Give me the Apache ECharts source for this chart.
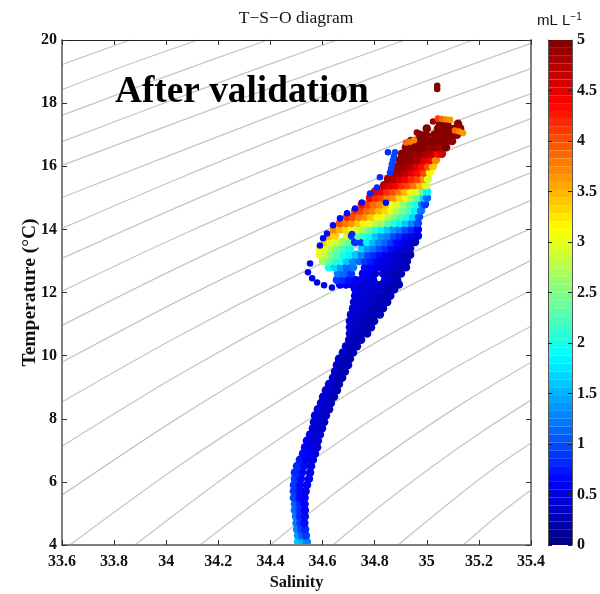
<!DOCTYPE html>
<html><head><meta charset="utf-8"><style>html,body{margin:0;background:#fff}#c{width:600px;height:594px}</style>
<script src="https://cdn.jsdelivr.net/npm/echarts@6/dist/echarts.min.js"></script></head>
<body><div id="c"></div><script>
const salinityTicks=[33.6,35.4,0.2];
const temperatureTicks=[4,20,2];
const oxygenTicks=[0,5,0.5];

// isopycnal contours: [salinity, temperature]
const contours=[
[[33.6,19.22],[33.861,20]],
[[33.6,18.43],[33.86,19.24],[34.122,20]],
[[33.6,17.61],[34.0,18.85],[34.39,20]],
[[33.6,16.78],[34.13,18.43],[34.655,20]],
[[33.6,16.03],[34.26,18.06],[34.916,20]],
[[33.6,15.01],[34.39,17.55],[35.177,20]],
[[33.6,14.03],[34.05,15.62],[34.5,17.12],[34.95,18.55],[35.4,19.89]],
[[33.6,13.08],[34.05,14.73],[34.5,16.29],[34.95,17.74],[35.4,19.09]],
[[33.6,12.04],[34.05,13.79],[34.5,15.41],[34.95,16.92],[35.4,18.30]],
[[33.6,10.96],[34.05,12.81],[34.5,14.52],[34.95,16.08],[35.4,17.51]],
[[33.6,9.79],[34.05,11.75],[34.5,13.55],[34.95,15.18],[35.4,16.66]],
[[33.6,8.53],[34.05,10.63],[34.5,12.54],[34.95,14.26],[35.4,15.80]],
[[33.6,7.13],[34.05,9.40],[34.5,11.45],[34.95,13.29],[35.4,14.92]],
[[33.6,5.58],[34.05,8.05],[34.5,10.29],[34.95,12.28],[35.4,14.03]],
[[33.63,4],[34.07,6.63],[34.52,9.01],[34.96,11.14],[35.4,13.02]],
[[33.88,4],[34.26,6.36],[34.64,8.49],[35.02,10.39],[35.4,12.07]],
[[34.13,4],[34.45,6.01],[34.765,7.85],[35.08,9.48],[35.4,10.93]],
[[34.40,4],[34.65,5.66],[34.9,7.18],[35.15,8.55],[35.4,9.79]],
[[34.64,4],[34.83,5.29],[35.02,6.48],[35.21,7.58],[35.4,8.59]],
[[34.89,4],[35.02,4.89],[35.145,5.72],[35.27,6.5],[35.4,7.23]],
[[35.14,4],[35.27,4.92],[35.4,5.74]]
];

// T-S-O samples read across the cloud, one row per temperature level
const temperatureLevels=[4.1,4.3,4.5,4.7,4.9,5.1,5.3,5.5,5.7,5.9,6.1,6.3,6.5,6.7,6.9,7.1,7.3,7.5,7.7,7.9,8.1,8.3,8.5,8.7,8.9,9.1,9.3,9.5,9.7,9.9,10.1,10.3,10.5,10.7,10.9,11.1,11.3,11.5,11.7,11.9,12.1,12.25,12.4,12.6,12.8,13,13.2,13.4,13.6,13.8,14,14.2,14.4,14.6,14.8,15,15.2,15.4,15.6,15.8,16,16.2,16.4,16.6,16.8,17,17.2,17.35];
const salinityByLevel=[
[34.506,34.521,34.540],[34.506,34.521,34.536],[34.502,34.517,34.533],[34.50,34.515,34.53],[34.498,34.513,34.532],[34.494,34.513,34.532],[34.494,34.512,34.531],[34.49,34.512,34.531],[34.49,34.512,34.535],[34.49,34.513,34.54],
[34.494,34.517,34.548],[34.494,34.521,34.552],[34.502,34.529,34.556],[34.513,34.536,34.563],[34.525,34.548,34.571],[34.533,34.556,34.579],[34.54,34.56,34.582],[34.552,34.571,34.59],[34.563,34.582,34.598],[34.567,34.586,34.606],
[34.571,34.59,34.613],[34.582,34.602,34.625],[34.594,34.613,34.632],[34.602,34.625,34.644],[34.613,34.632,34.655],[34.625,34.644,34.663],[34.64,34.659,34.675],[34.648,34.667,34.686],[34.655,34.675,34.698],[34.663,34.686,34.705],
[34.678,34.698,34.717],[34.69,34.709,34.732],[34.702,34.725,34.748],[34.705,34.728,34.751,34.771],[34.705,34.728,34.751,34.775,34.786],[34.705,34.728,34.751,34.775,34.798],
[34.709,34.732,34.755,34.778,34.801,34.82],[34.717,34.74,34.763,34.786,34.809,34.832],[34.721,34.744,34.767,34.79,34.813,34.836,34.848],[34.725,34.748,34.771,34.794,34.817,34.84,34.86],
[34.725,34.748,34.771,34.794,34.817,34.84,34.863,34.875],
[34.667,34.69,34.713,34.736,34.759,34.782,34.805,34.828,34.851,34.874,34.893],
[34.655,34.678,34.702,34.725,34.748,34.771,34.794,34.84,34.863,34.886],
[34.659,34.682,34.709,34.755,34.778,34.801,34.832,34.855,34.878,34.901],
[34.625,34.648,34.671,34.694,34.717,34.763,34.786,34.809,34.832,34.855,34.878,34.901,34.92],
[34.602,34.625,34.648,34.671,34.694,34.717,34.74,34.763,34.786,34.809,34.832,34.855,34.878,34.901,34.924],
[34.59,34.613,34.636,34.659,34.682,34.705,34.728,34.751,34.774,34.797,34.82,34.843,34.866,34.889,34.912,34.936],
[34.59,34.613,34.636,34.659,34.682,34.705,34.751,34.774,34.797,34.82,34.843,34.866,34.889,34.912,34.936],
[34.609,34.632,34.655,34.678,34.702,34.725,34.748,34.771,34.794,34.817,34.84,34.863,34.886,34.909,34.932,34.955],
[34.625,34.648,34.694,34.713,34.736,34.759,34.782,34.805,34.828,34.851,34.874,34.897,34.92,34.943,34.966],
[34.644,34.667,34.69,34.713,34.736,34.759,34.782,34.805,34.828,34.851,34.874,34.897,34.92,34.943,34.966],
[34.667,34.69,34.713,34.736,34.759,34.782,34.805,34.828,34.851,34.874,34.897,34.92,34.943,34.966],
[34.694,34.717,34.74,34.763,34.786,34.809,34.832,34.855,34.878,34.901,34.924,34.947,34.97],
[34.725,34.748,34.771,34.794,34.817,34.84,34.863,34.886,34.909,34.932,34.955,34.978],
[34.751,34.774,34.797,34.82,34.843,34.866,34.889,34.912,34.936,34.959,34.982,34.993],
[34.782,34.805,34.828,34.851,34.874,34.897,34.92,34.943,34.966,34.989,35.001],
[34.801,34.824,34.847,34.87,34.893,34.916,34.939,34.962,34.985,35.001],
[34.836,34.859,34.882,34.905,34.928,34.951,34.974,34.997],
[34.851,34.874,34.897,34.92,34.943,34.966,34.989,35.005],
[34.874,34.897,34.92,34.943,34.966,34.989,35.012],
[34.889,34.912,34.936,34.959,34.982,35.005,35.024],
[34.897,34.92,34.943,34.966,34.989,35.012,35.035],
[34.905,34.928,34.951,34.974,34.997,35.02,35.043,35.058],
[34.92,34.943,34.966,34.989,35.012,35.035,35.058,35.074],
[34.939,34.962,34.985,35.008,35.031,35.054,35.077,35.097],
[34.974,34.997,35.028,35.051,35.074,35.097,35.116],
[35.0,35.043,35.066,35.089,35.112,35.128],
[35.051,35.078,35.12]
];
const oxygenByLevel=[
[1.6,1.5,1.3],[1.4,1.1,.9],[1.3,1.0,.8],[1.2,.9,.7],[1.2,.8,.7],[1.1,.8,.6],[1.1,.8,.6],[1.0,.7,.6],[.9,.7,.6],[.9,.7,.55],
[.9,.7,.55],[.85,.65,.5],[.8,.65,.5],[.75,.6,.5],[.7,.55,.45],[.6,.5,.45],[.55,.45,.4],[.5,.45,.4],[.45,.4,.35],[.45,.4,.35],
[.45,.4,.35],[.4,.35,.35],[.4,.35,.3],[.4,.35,.3],[.4,.35,.3],[.4,.35,.3],[.4,.3,.3],[.35,.3,.3],[.35,.3,.3],[.35,.3,.3],
[.35,.3,.25],[.35,.3,.25],[.35,.3,.25],[.35,.3,.3,.25],[.4,.35,.3,.3,.25],[.4,.35,.3,.3,.25],
[.45,.4,.35,.3,.3,.25],[.45,.4,.35,.3,.3,.25],[.45,.4,.4,.35,.3,.3,.25],[.45,.4,.4,.35,.3,.3,.25],
[.55,.45,.4,.35,.35,.3,.3,.25],
[.55,.55,.5,.45,.45,.4,.4,.35,.3,.3,.25],
[.9,.8,.7,.6,.55,.45,.45,.4,.35,.3],
[1.2,1.1,.9,.6,.55,.45,.4,.35,.3,.25],
[1.9,1.7,1.4,1.1,1.2,.7,.55,.5,.45,.4,.35,.3,.25],
[2.6,2.4,2.1,1.9,1.6,1.3,1.1,.9,.75,.6,.5,.45,.4,.35,.3],
[3.0,2.8,2.5,2.3,2.0,1.8,1.6,1.3,1.0,.85,.7,.55,.45,.4,.35,.3],
[3.2,3.0,2.7,2.4,2.2,2.0,1.7,1.4,1.2,1.0,.85,.65,.5,.4,.35],
[3.3,3.0,2.9,2.6,2.4,.8,.9,1.8,1.5,1.3,1.1,.9,.7,.55,.45,.35],
[3.5,3.3,2.9,.9,2.3,2.1,1.9,1.6,1.4,1.2,1.0,.85,.65,.5,.4],
[3.7,3.5,3.3,3.1,2.9,2.6,2.4,2.1,1.8,1.6,1.4,1.2,1.0,.8,.6],
[4.0,3.8,3.6,3.4,3.2,3.0,2.8,2.6,2.3,2.1,1.8,1.6,1.3,1.0],
[4.2,4.0,3.8,3.6,3.4,3.2,3.0,2.7,2.5,2.2,2.0,1.7,1.0],
[4.2,4.1,3.9,3.7,3.5,3.3,3.0,2.7,2.5,2.2,1.8,1.2],
[4.3,4.1,3.9,3.7,3.4,3.1,2.9,2.6,2.3,2.0,1.3,.9],
[4.4,4.2,4.0,3.8,3.6,3.3,3.0,2.7,2.3,1.7,1.1],
[4.5,4.4,4.2,4.0,3.8,3.5,3.2,2.9,2.4,1.8],
[4.7,4.6,4.4,4.2,4.0,3.8,3.5,2.9],
[4.8,4.7,4.6,4.4,4.2,4.0,3.6,2.9],
[4.8,4.8,4.7,4.5,4.3,4.0,3.2],
[4.9,4.9,4.8,4.6,4.3,4.0,3.4],
[5,4.9,4.9,4.8,4.6,4.4,3.7],
[5,5,4.9,4.9,4.8,4.7,4.3,4.6],
[5,5,5,5,4.9,4.9,4.8,5],
[5,5,5,5,5,5,5,4.9],
[5,5,5,5,5,5,5],
[5,5,5,5,5,5],
[5,5,5]
];
// isolated dots and streaks outside the main rows
const extraSalinity=[34.636,34.606,34.579,34.56,34.544,34.552,34.59,34.602,34.617,34.64,34.667,34.694,34.725,34.751,34.782,34.809,34.82,34.859,34.713,34.843,
34.878,34.874,34.87,34.866,34.863,34.851,34.962,35.024,35.04,35.04,35.043,35.058,35.074,35.089,35.108,35.124,35.139,34.92,34.936,34.951];
const extraTemperature=[12.16,12.23,12.32,12.45,12.64,12.92,13.49,13.72,13.87,14.13,14.35,14.51,14.66,14.85,15.14,15.33,15.65,15.80,13.85,14.84,
16.44,16.32,16.19,16.06,15.93,16.44,17.07,17.42,18.55,18.45,17.51,17.5,17.48,17.47,17.13,17.1,17.05,16.75,16.78,16.82];
const extraOxygen=[.5,.5,.5,.5,.5,.6,.7,.7,.7,.7,.7,.7,.7,.7,.8,.8,.8,.9,.8,.7,
1.0,1.0,1.0,1.0,1.0,.8,4.9,4.9,5,5,4.1,3.9,3.7,3.6,3.9,3.7,3.6,3.9,3.8,3.7];

const rowPoints=[];
temperatureLevels.forEach((t,i)=>salinityByLevel[i].forEach((s,j)=>rowPoints.push([s,t,oxygenByLevel[i][j]])));
const extraPoints=extraSalinity.map((s,i)=>[s,extraTemperature[i],extraOxygen[i]]);

// 64-step jet colormap
const STEPS=64;
function jet(i){const x=(i+.5)/STEPS,c=v=>Math.round(255*Math.max(0,Math.min(1,v))),
 r=1.5-Math.abs(4*x-3),g=1.5-Math.abs(4*x-2),b=1.5-Math.abs(4*x-1);
 return `rgb(${c(r)},${c(g)},${c(b)})`;}
const pieces=[];for(let i=0;i<STEPS;i++)pieces.push({min:5*i/STEPS,max:5*(i+1)/STEPS,color:jet(i)});

const serif='"Liberation Serif","Times New Roman",serif';
const sans='"Liberation Sans",Arial,sans-serif';
const lab={fontFamily:serif,fontWeight:'bold',fontSize:16,color:'#111'};
const grayLine={onZero:false,lineStyle:{color:'#808080',width:2}};
const topLine={onZero:false,lineStyle:{color:'#222',width:1}};
const barLine={show:true,onZero:false,lineStyle:{color:'#555',width:1}};
const tick={show:true,inside:true,length:5,lineStyle:{color:'#333',width:1}};
const barTick={show:true,inside:true,length:4,lineStyle:{color:'#222'}};
const [xmin,xmax,xint]=salinityTicks,[ymin,ymax,yint]=temperatureTicks,[omin,omax,oint]=oxygenTicks;

const series=contours.map(c=>({type:'line',data:c,smooth:.3,showSymbol:false,silent:true,z:1,
  lineStyle:{color:'#c6c6c6',width:1.3},xAxisIndex:0,yAxisIndex:0}));
const rowIndex=series.length;
series.push({type:'scatter',name:'Oxygen',data:rowPoints,symbol:'circle',symbolSize:8.5,z:3,xAxisIndex:0,yAxisIndex:0,encode:{x:0,y:1},clip:false,itemStyle:{opacity:1}});
series.push({type:'scatter',name:'Oxygen outliers',data:extraPoints,symbol:'circle',symbolSize:6.5,z:4,xAxisIndex:0,yAxisIndex:0,encode:{x:0,y:1},clip:false,itemStyle:{opacity:1}});

const chart=echarts.init(document.getElementById('c'),null,{renderer:'canvas'});
chart.setOption({
 animation:false,backgroundColor:'#fff',
 title:[
  {text:'T−S−O diagram',left:296,top:9,padding:0,textAlign:'center',textStyle:{fontFamily:serif,fontWeight:'normal',fontSize:17.5,color:'#111'}},
  {text:'After validation',left:115,top:74,padding:0,z:8,textStyle:{fontFamily:serif,fontWeight:'bold',fontSize:37.3,color:'#000'}},
  {text:'{a|mL L}{b|−1}',left:537,top:12,padding:0,textStyle:{rich:{a:{fontFamily:sans,fontWeight:'normal',fontSize:15,color:'#111',verticalAlign:'bottom'},b:{fontFamily:sans,fontWeight:'normal',fontSize:10,color:'#111',verticalAlign:'top',padding:[0,0,6,0]}}}}
 ],
 grid:[{left:62,top:40,width:469,height:505,outerBoundsMode:'none'},{left:548,top:40,width:24,height:505,outerBoundsMode:'none'}],
 xAxis:[
  {type:'value',gridIndex:0,min:xmin,max:xmax,interval:xint,position:'bottom',name:'Salinity',nameLocation:'middle',nameGap:30,nameMoveOverlap:false,
   nameTextStyle:{fontFamily:serif,fontWeight:'bold',fontSize:16.4,color:'#111'},axisLine:{show:true,...grayLine},axisTick:tick,axisLabel:{...lab,margin:9},splitLine:{show:false},z:5},
  {type:'value',gridIndex:0,min:xmin,max:xmax,interval:xint,position:'top',axisLine:{show:true,...topLine},axisTick:tick,axisLabel:{show:false},splitLine:{show:false},z:5},
  {type:'value',gridIndex:1,min:0,max:1,show:false}
 ],
 yAxis:[
  {type:'value',gridIndex:0,min:ymin,max:ymax,interval:yint,position:'left',name:'Temperature (°C)',nameLocation:'middle',nameGap:22,nameMoveOverlap:false,
   nameTextStyle:{fontFamily:serif,fontWeight:'bold',fontSize:19.5,color:'#111'},axisLine:{show:true,...grayLine},axisTick:tick,axisLabel:{...lab,margin:5},splitLine:{show:false},z:5},
  {type:'value',gridIndex:0,min:ymin,max:ymax,interval:yint,position:'right',axisLine:{show:true,...grayLine},axisTick:tick,axisLabel:{show:false},splitLine:{show:false},z:5},
  {type:'value',gridIndex:1,min:omin,max:omax,interval:oint,position:'right',axisLine:barLine,axisTick:barTick,axisLabel:{...lab,margin:5},splitLine:{show:false},z:10},
  {type:'value',gridIndex:1,min:omin,max:omax,interval:oint,position:'left',axisLine:barLine,axisTick:barTick,axisLabel:{show:false},splitLine:{show:false},z:10}
 ],
 visualMap:{type:'piecewise',seriesIndex:[rowIndex,rowIndex+1],dimension:2,pieces,left:548,top:40,orient:'vertical',padding:0,itemWidth:24,itemHeight:505/STEPS,itemGap:0,showLabel:false,selectedMode:false,hoverLink:false,itemSymbol:'rect'},
 series
});
</script></body></html>
